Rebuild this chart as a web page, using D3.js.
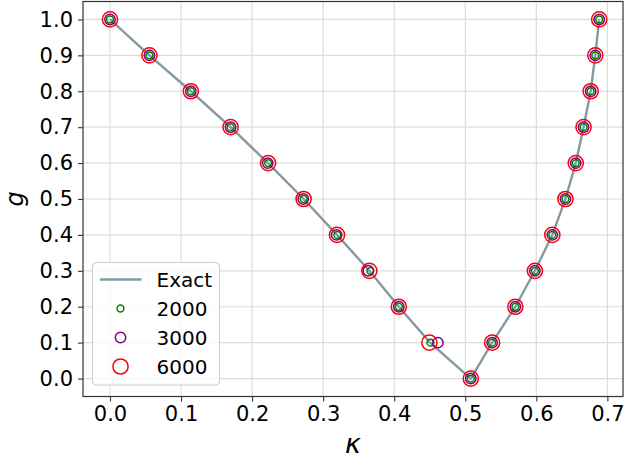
<!DOCTYPE html>
<html>
<head>
<meta charset="utf-8">
<script src="https://cdn.jsdelivr.net/npm/d3@7"></script>
<style>
  html, body { margin: 0; padding: 0; background: #fff; }
  svg { display: block; font-family: "DejaVu Sans", sans-serif; }
</style>
</head>
<body>
<svg id="chart" width="626" height="462"></svg>
<script>
// Coupling g along the curve: down the left branch, then up the right branch
const gValues = [1.0, 0.9, 0.8, 0.7, 0.6, 0.5, 0.4, 0.3, 0.2, 0.1, 0.0,
                 0.1, 0.2, 0.3, 0.4, 0.5, 0.6, 0.7, 0.8, 0.9, 1.0];

// Exact critical kappa for each g
const kappaExact = [0.000, 0.0555, 0.1138, 0.1697, 0.2225, 0.2725, 0.3195, 0.3650, 0.4065, 0.4505, 0.5078,
                    0.5378, 0.5705, 0.5980, 0.6225, 0.6410, 0.6555, 0.6665, 0.6765, 0.6830, 0.6885];

// Estimates from simulations of different sizes
const kappa2000 = [0.000, 0.0555, 0.1138, 0.1697, 0.2225, 0.2725, 0.3200, 0.3665, 0.4065, 0.4510, 0.5078,
                   0.5378, 0.5705, 0.5980, 0.6225, 0.6410, 0.6555, 0.6665, 0.6765, 0.6830, 0.6885];
const kappa3000 = [0.000, 0.0555, 0.1138, 0.1697, 0.2220, 0.2720, 0.3190, 0.3635, 0.4065, 0.4615, 0.5078,
                   0.5378, 0.5705, 0.5980, 0.6225, 0.6410, 0.6555, 0.6665, 0.6765, 0.6830, 0.6885];
const kappa6000 = [0.000, 0.0555, 0.1138, 0.1697, 0.2225, 0.2725, 0.3195, 0.3650, 0.4065, 0.4495, 0.5078,
                   0.5378, 0.5705, 0.5980, 0.6225, 0.6410, 0.6555, 0.6665, 0.6765, 0.6830, 0.6885];

const xTicks = [0.0, 0.1, 0.2, 0.3, 0.4, 0.5, 0.6, 0.7];
const yTicks = [0.0, 0.1, 0.2, 0.3, 0.4, 0.5, 0.6, 0.7, 0.8, 0.9, 1.0];

const legendLabels = ["Exact", "2000", "3000", "6000"];

const svg = d3.select("#chart");
const plot = { left: 83, right: 623, top: 1.5, bottom: 396.5 };

const x = d3.scaleLinear().domain([-0.038, 0.722]).range([plot.left, plot.right]);
const y = d3.scaleLinear().domain([-0.05, 1.05]).range([plot.bottom, plot.top]);

const tickFont = 21;

// grid
const grid = svg.append("g");
grid.selectAll("line.vx").data(xTicks).join("line")
  .attr("x1", d => x(d)).attr("x2", d => x(d))
  .attr("y1", plot.top).attr("y2", plot.bottom)
  .attr("stroke", "#dcdcdc").attr("stroke-width", 1.2);
grid.selectAll("line.hy").data(yTicks).join("line")
  .attr("x1", plot.left).attr("x2", plot.right)
  .attr("y1", d => y(d)).attr("y2", d => y(d))
  .attr("stroke", "#dcdcdc").attr("stroke-width", 1.2);

// axes
const xAxis = d3.axisBottom(x).tickValues(xTicks).tickFormat(d3.format(".1f"))
  .tickSizeInner(5).tickSizeOuter(0).tickPadding(5);
const yAxis = d3.axisLeft(y).tickValues(yTicks).tickFormat(d3.format(".1f"))
  .tickSizeInner(5).tickSizeOuter(0).tickPadding(5);

const gx = svg.append("g").attr("transform", `translate(0,${plot.bottom})`).call(xAxis);
const gy = svg.append("g").attr("transform", `translate(${plot.left},0)`).call(yAxis);
[gx, gy].forEach(g => {
  g.select(".domain").remove();
  g.selectAll(".tick line").attr("stroke", "#333").attr("stroke-width", 1.1);
  g.selectAll(".tick text").attr("fill", "#000")
    .attr("font-family", "DejaVu Sans").attr("font-size", tickFont);
});

// frame
svg.append("rect")
  .attr("x", plot.left).attr("y", plot.top)
  .attr("width", plot.right - plot.left).attr("height", plot.bottom - plot.top)
  .attr("fill", "none").attr("stroke", "#333").attr("stroke-width", 1.2);

// axis labels
svg.append("text")
  .attr("x", (plot.left + plot.right) / 2).attr("y", 453)
  .attr("text-anchor", "middle")
  .attr("font-family", "DejaVu Sans").attr("font-style", "italic")
  .attr("font-size", 27).text("κ");
svg.append("text")
  .attr("transform", `translate(23,${(plot.top + plot.bottom) / 2}) rotate(-90)`)
  .attr("text-anchor", "middle")
  .attr("font-family", "DejaVu Sans").attr("font-style", "italic")
  .attr("font-size", 24).text("g");

// exact curve
const exactPts = kappaExact.map((k, i) => [k, gValues[i]]);
svg.append("path")
  .attr("d", d3.line().x(d => x(d[0])).y(d => y(d[1]))(exactPts))
  .attr("fill", "none").attr("stroke", "#8599a1").attr("stroke-width", 2.4);

// simulated points
const series = [
  { k: kappa2000, color: "green", r: 3.4 },
  { k: kappa3000, color: "purple", r: 5.2 },
  { k: kappa6000, color: "red", r: 7.6 }
];
series.forEach(s => {
  svg.append("g").selectAll("circle").data(s.k).join("circle")
    .attr("cx", d => x(d)).attr("cy", (d, i) => y(gValues[i]))
    .attr("r", s.r).attr("fill", "none")
    .attr("stroke", s.color).attr("stroke-width", 1.5);
});

// legend
const lg = svg.append("g");
lg.append("rect")
  .attr("x", 92.5).attr("y", 262.5).attr("width", 127).attr("height", 122.5)
  .attr("rx", 4).attr("fill", "#fff").attr("fill-opacity", 0.8)
  .attr("stroke", "#cccccc").attr("stroke-width", 1);
const rowY = [279.5, 308.5, 337.5, 366.5];
lg.append("line")
  .attr("x1", 100).attr("x2", 141.5).attr("y1", rowY[0]).attr("y2", rowY[0])
  .attr("stroke", "#8599a1").attr("stroke-width", 2.4);
series.forEach((s, i) => {
  lg.append("circle").attr("cx", 120.5).attr("cy", rowY[i + 1]).attr("r", s.r)
    .attr("fill", "none").attr("stroke", s.color).attr("stroke-width", 1.5);
});
lg.selectAll("text").data(legendLabels).join("text")
  .attr("x", 156.5).attr("y", (d, i) => rowY[i]).attr("dy", "0.36em")
  .attr("font-family", "DejaVu Sans").attr("font-size", 20).attr("fill", "#000")
  .text(d => d);
</script>
</body>
</html>
